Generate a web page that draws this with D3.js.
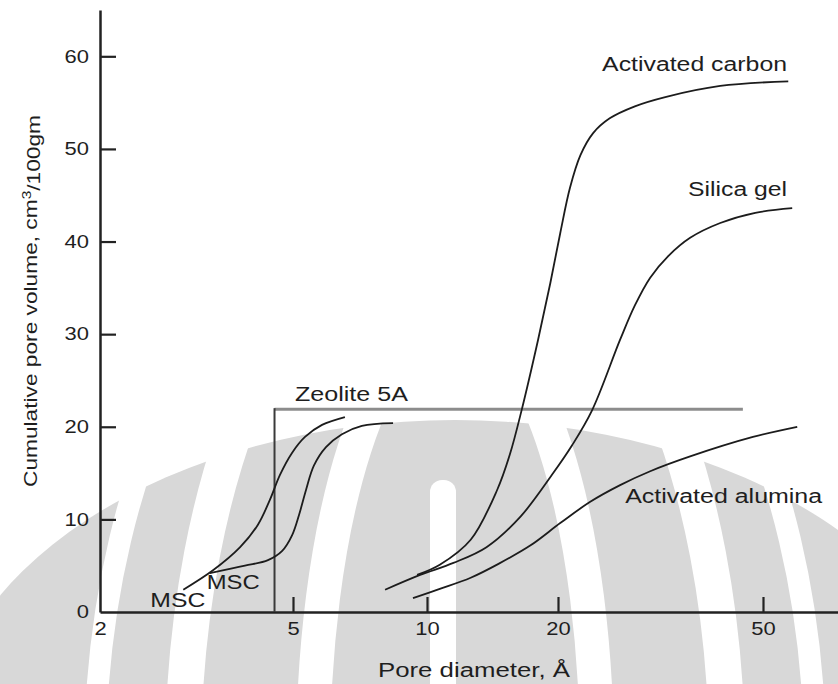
<!DOCTYPE html>
<html>
<head>
<meta charset="utf-8">
<script src="https://cdn.jsdelivr.net/npm/d3@7"></script>
<style>
  html, body { margin: 0; padding: 0; background: #fff; }
  svg { display: block; font-family: "Liberation Sans", Arial, Helvetica, sans-serif; }
</style>
</head>
<body>
<svg id="chart" width="838" height="684"></svg>
<script>
// values (pore diameter in Angstrom, cumulative volume cm3/100gm)
const xTicks = [2, 5, 10, 20, 50];
const yTicks = [0, 10, 20, 30, 40, 50, 60];

const msc1Pore = [2.97, 3.42, 3.89, 4.23, 4.48, 4.70, 4.98, 5.32, 5.81, 6.54];
const msc1Vol  = [2.4, 4.5, 7.0, 9.4, 12.1, 14.8, 17.2, 18.9, 20.2, 21.05];

const msc2Pore = [3.37, 3.98, 4.44, 4.75, 4.98, 5.16, 5.35, 5.57, 5.93, 6.44, 7.14, 8.39];
const msc2Vol  = [4.2, 5.0, 5.6, 6.6, 8.3, 10.5, 13.2, 15.8, 17.8, 19.2, 20.1, 20.4];

const carbonPore = [9.5, 10.7, 12.6, 14.5, 15.5, 16.5, 18.0, 19.2, 20.2, 21.1, 22.1, 23.4, 25.2, 28.2, 32.3, 41.3, 56.0];
const carbonVol  = [4.0, 5.1, 7.8, 13.2, 17.0, 21.8, 29.4, 35.5, 40.9, 45.8, 49.3, 51.7, 53.3, 54.6, 55.6, 56.8, 57.3];

const silicaPore = [8.05, 9.65, 11.5, 13.7, 16.4, 19.5, 21.3, 23.3, 26.4, 28.2, 30.2, 32.7, 36.1, 41.3, 48.3, 57.0];
const silicaVol  = [2.4, 4.0, 5.3, 7.0, 10.3, 15.0, 18.0, 21.8, 29.4, 33.1, 36.1, 38.4, 40.4, 42.0, 43.1, 43.6];

const aluminaPore = [9.3, 10.7, 12.6, 14.6, 17.3, 20.2, 23.1, 26.4, 30.2, 36.1, 47.8, 58.3];
const aluminaVol  = [1.5, 2.5, 3.7, 5.2, 7.2, 9.6, 11.9, 13.7, 15.2, 16.8, 18.9, 20.0];

// zeolite 5A step: vertical at pore 4.58 up to 21.9, then flat to 45.7
const zeolitePore = [4.58, 4.58, 45.7];
const zeoliteVol  = [0, 21.9, 21.9];

const curveNames = ["MSC 1", "MSC 2", "Activated carbon", "Silica gel", "Activated alumina"];

const svg = d3.select("#chart");

// the printed log axis is slightly uneven, so the scale goes through every printed tick
const x = d3.scaleLog()
    .domain([2, 5, 10, 20, 50, 70])
    .range([100, 293, 427, 558, 763, 838]);
const y = d3.scaleLinear()
    .domain([0, 65])
    .range([612, 10]);

// faint watermark behind the plot
const wm = svg.append("g");
wm.append("ellipse")
    .attr("cx", 455).attr("cy", 760).attr("rx", 520).attr("ry", 340)
    .attr("fill", "#d8d8d8");
[[360, 600, 22], [272, 560, 36], [142, 441, 34]].forEach(function(r) {
    wm.append("ellipse")
        .attr("cx", 455).attr("cy", 760).attr("rx", r[0]).attr("ry", r[1])
        .attr("fill", "none").attr("stroke", "#fff").attr("stroke-width", r[2]);
});
wm.append("rect")
    .attr("x", 430).attr("y", 480).attr("width", 26).attr("height", 220).attr("rx", 12)
    .attr("fill", "#fff");

// axes
const xAxis = svg.append("g")
    .attr("transform", "translate(0," + y(0) + ")")
    .call(d3.axisBottom(x).tickValues(xTicks).tickFormat(d3.format("d"))
        .tickSizeInner(-15).tickSizeOuter(0).tickPadding(10));
const yAxis = svg.append("g")
    .attr("transform", "translate(" + x(2) + ",0)")
    .call(d3.axisLeft(y).tickValues(yTicks)
        .tickSizeInner(-16).tickSizeOuter(0).tickPadding(11));

[xAxis, yAxis].forEach(function(a) {
    a.select(".domain").attr("stroke", "#222").attr("stroke-width", 2.5);
    a.selectAll(".tick line").attr("stroke", "#222").attr("stroke-width", 2.2);
    a.selectAll(".tick text")
        .attr("fill", "#1e1e1e")
        .style("font-size", "18px")
        .style("font-family", "'Liberation Sans', Arial, sans-serif");
});
xAxis.selectAll(".tick").filter(d => d === 2).select("line").remove();
yAxis.selectAll(".tick").filter(d => d === 0).select("line").remove();

// the printed numbers are a bit wider than the font
svg.selectAll(".tick text").each(function() {
    const w = this.getComputedTextLength();
    d3.select(this).attr("textLength", w * 1.22).attr("lengthAdjust", "spacingAndGlyphs");
});

// zeolite 5A box
const plot = svg.append("g");
plot.append("line")
    .attr("x1", x(zeolitePore[1])).attr("y1", y(zeoliteVol[1]))
    .attr("x2", x(zeolitePore[2])).attr("y2", y(zeoliteVol[2]))
    .attr("stroke", "#8c8c8c").attr("stroke-width", 3);
plot.append("line")
    .attr("x1", x(zeolitePore[0])).attr("y1", y(zeoliteVol[0]))
    .attr("x2", x(zeolitePore[1])).attr("y2", y(zeoliteVol[1]) - 1)
    .attr("stroke", "#3a3a3a").attr("stroke-width", 2);

// curves
const series = [
    [msc1Pore, msc1Vol],
    [msc2Pore, msc2Vol],
    [carbonPore, carbonVol],
    [silicaPore, silicaVol],
    [aluminaPore, aluminaVol]
];
const line = d3.line()
    .x(d => x(d[0]))
    .y(d => y(d[1]))
    .curve(d3.curveCatmullRom.alpha(0.5));

plot.selectAll(".curve")
    .data(series)
    .enter()
    .append("path")
    .attr("class", "curve")
    .attr("d", s => line(d3.zip(s[0], s[1])))
    .attr("fill", "none")
    .attr("stroke", "#1c1c1c")
    .attr("stroke-width", 1.8)
    .append("title").text((s, i) => curveNames[i]);

// curve labels (anchor in data units, printed width in px)
const labelText  = ["Activated carbon", "Silica gel", "Activated alumina", "Zeolite 5A", "MSC", "MSC"];
const labelPore  = [55.7, 55.7, 27.0, 5.05, 2.54, 3.32];
const labelVol   = [58.4, 44.9, 11.8, 22.8, 0.54, 2.48];
const labelWidth = [185, 99, 197, 113, 55, 53];
const labelAnchor = ["end", "end", "start", "start", "start", "start"];

plot.selectAll(".lbl")
    .data(labelText)
    .enter()
    .append("text")
    .attr("class", "lbl")
    .attr("x", (d, i) => x(labelPore[i]))
    .attr("y", (d, i) => y(labelVol[i]))
    .attr("text-anchor", (d, i) => labelAnchor[i])
    .attr("textLength", (d, i) => labelWidth[i])
    .attr("lengthAdjust", "spacingAndGlyphs")
    .attr("fill", "#1e1e1e")
    .style("font-size", "19.5px")
    .text(d => d);

// axis titles
svg.append("text")
    .attr("x", 378).attr("y", 677)
    .attr("textLength", 192).attr("lengthAdjust", "spacingAndGlyphs")
    .attr("fill", "#1e1e1e")
    .style("font-size", "19.5px")
    .text("Pore diameter, Å");

const yTitle = svg.append("text")
    .attr("transform", "translate(37,301) rotate(-90)")
    .attr("text-anchor", "middle")
    .attr("textLength", 372).attr("lengthAdjust", "spacingAndGlyphs")
    .attr("fill", "#1e1e1e")
    .style("font-size", "19px");
yTitle.append("tspan").text("Cumulative pore volume, cm");
yTitle.append("tspan").attr("dy", "-0.45em").style("font-size", "13px").text("3");
yTitle.append("tspan").attr("dy", "0.45em").text("/100gm");
</script>
</body>
</html>
